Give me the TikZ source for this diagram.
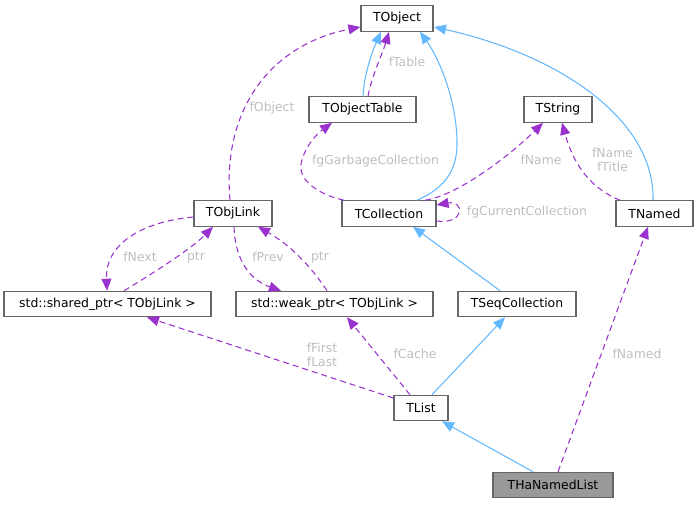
\documentclass[tikz,border=0pt]{standalone}
\usepackage{fontspec}
\setmainfont{DejaVu Sans}
\usetikzlibrary{arrows.meta}
\definecolor{inhblue}{HTML}{63B8FF}
\definecolor{usepurple}{HTML}{9A32CD}
\definecolor{lblgray}{HTML}{BEBEBE}
\definecolor{boxgray}{HTML}{666666}
\definecolor{fillgray}{HTML}{999999}
\begin{document}
\begin{tikzpicture}[x=0.75pt,y=-0.75pt,
  cls/.style={draw=boxgray,line width=0.9pt,fill=white,inner sep=0pt,minimum height=19pt,
    font=\fontsize{9.3pt}{11pt}\selectfont,text=black},
  inh/.style={draw=inhblue,line width=0.8pt,-{Triangle[length=9pt,width=7.5pt]},color=inhblue},
  use/.style={draw=usepurple,line width=0.8pt,dash pattern=on 4.5pt off 3pt,-{Triangle[length=9pt,width=7.5pt]},color=usepurple},
  lbl/.style={text=lblgray,inner sep=0pt,align=center,font=\fontsize{9.3pt}{10.5pt}\selectfont}]
\useasboundingbox (0,0) rectangle (699,504);

% nodes
\node[cls,minimum width=54pt] (tobj) at (397,18.5) {TObject};
\node[cls,minimum width=80.25pt] (otab) at (362.5,109.5) {TObjectTable};
\node[cls,minimum width=51pt] (tstr) at (558,109.5) {TString};
\node[cls,minimum width=58.5pt] (olink) at (233,213.5) {TObjLink};
\node[cls,minimum width=70.5pt] (tcol) at (389,213.5) {TCollection};
\node[cls,minimum width=57.75pt] (tnam) at (654.5,213.5) {TNamed};
\node[cls,minimum width=155.25pt] (shp) at (107.5,304) {std::shared\_ptr< TObjLink >};
\node[cls,minimum width=147.75pt] (wkp) at (334.5,304) {std::weak\_ptr< TObjLink >};
\node[cls,minimum width=88.5pt] (tseq) at (517,304) {TSeqCollection};
\node[cls,minimum width=40.5pt] (tlist) at (421,408) {TList};
\node[cls,minimum width=90pt,fill=fillgray] (thnl) at (553,485) {THaNamedList};

% inheritance (blue)
\draw[inh] (363,0 |- otab.north) .. controls (364,75) and (372,52) .. (381,0 |- tobj.south);
\draw[inh] (417,0 |- tcol.north) .. controls (445,188) and (458,170) .. (457,140)
   .. controls (456,100) and (440,60) .. (420,0 |- tobj.south);
\draw[inh] (653,0 |- tnam.north) .. controls (655,120) and (560,55) .. (434,27);
\draw[inh] (500,0 |- tseq.north) -- (413,0 |- tcol.south);
\draw[inh] (432,0 |- tlist.north) -- (505,0 |- tseq.south);
\draw[inh] (533,0 |- thnl.north) -- (442,0 |- tlist.south);

% usage (purple dashed)
\draw[use] (368,0 |- otab.north) .. controls (372,75) and (382,55) .. (389,0 |- tobj.south);
\node[lbl] (lftable) at (407,62) {fTable};

\draw[use] (344,0 |- tcol.north) .. controls (320,195) and (295,180) .. (302,160)
   .. controls (306,145) and (318,133) .. (332,0 |- otab.south);
\node[lbl] (lfgarb) at (375.5,161) {fgGarbageCollection};

\draw[use] (425,0 |- tcol.north) .. controls (455,196) and (505,160) .. (543,0 |- tstr.south);
\node[lbl] (lfname) at (541,160) {fName};

\draw[use] (tcol.east |- 0,221) .. controls (465,225) and (465,200) .. (tcol.east |- 0,205);
\node[lbl] (lfgcur) at (527,212) {fgCurrentCollection};

\draw[use] (620,0 |- tnam.north) .. controls (595,190) and (575,170) .. (562,0 |- tstr.south);
\node[lbl] (lfnt) at (612.5,160) {fName\\fTitle};

\draw[use] (230,0 |- olink.north) .. controls (222,110) and (270,45) .. (tobj.west |- 0,27);
\node[lbl] (lfobj) at (272,108) {fObject};

\draw[use] (olink.west |- 0,217) .. controls (140,222) and (105,245) .. (107,0 |- shp.north);
\node[lbl] (lfnext) at (140,257) {fNext};

\draw[use] (124,0 |- shp.north) .. controls (150,275) and (190,250) .. (213,0 |- olink.south);
\node[lbl] (lptr1) at (196,257) {ptr};

\draw[use] (234,0 |- olink.south) .. controls (235,260) and (250,280) .. (281,0 |- wkp.north);
\node[lbl] (lfprev) at (268,257) {fPrev};

\draw[use] (327,0 |- wkp.north) .. controls (310,265) and (290,245) .. (258,0 |- olink.south);
\node[lbl] (lptr2) at (320,257) {ptr};

\draw[use] (tlist.west |- 0,398) -- (147,0 |- shp.south);
\node[lbl] (lfirst) at (322,355) {fFirst\\fLast};

\draw[use] (410,0 |- tlist.north) -- (347,0 |- wkp.south);
\node[lbl] (lfcache) at (415,354) {fCache};

\draw[use] (558,0 |- thnl.north) -- (648,0 |- tnam.south);
\node[lbl] (lfnamed) at (637,354) {fNamed};
\end{tikzpicture}
\end{document}
